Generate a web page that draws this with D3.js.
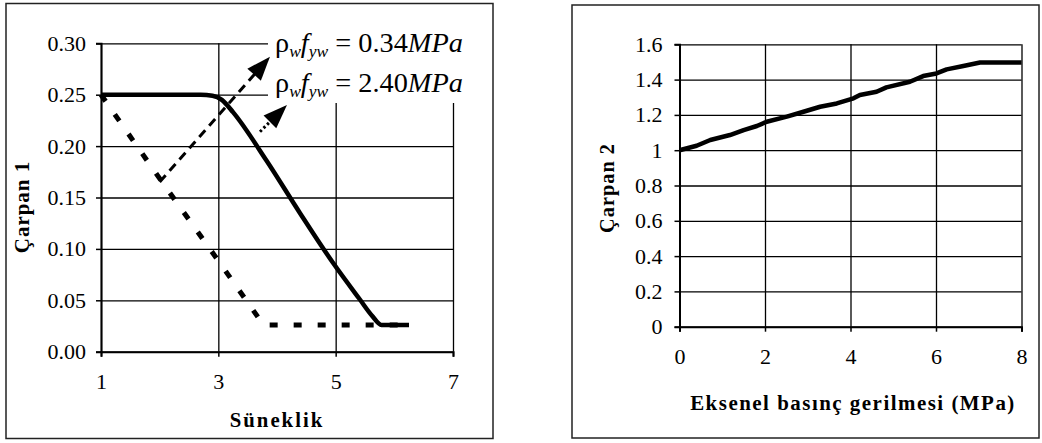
<!DOCTYPE html>
<html><head><meta charset="utf-8">
<script src="https://cdn.jsdelivr.net/npm/d3@7"></script>
<style>
html,body{margin:0;padding:0;background:#fff;}
svg{display:block;}
</style></head>
<body>
<svg id="c" width="1042" height="443"></svg>
<script>
// ---------- data: left chart (Çarpan 1 vs Süneklik) ----------
const leftXTicks = [1, 3, 5, 7];
const leftYTicks = [0, 0.05, 0.10, 0.15, 0.20, 0.25, 0.30];
const solidX = [1, 2.7, 2.9, 3.06, 3.25, 3.82, 4.39, 4.96, 5.41, 5.62, 5.78, 6.25];
const solidY = [0.25, 0.25, 0.249, 0.245, 0.233, 0.186, 0.135, 0.086, 0.051, 0.035, 0.026, 0.026];
const dottedX = [1, 2.03, 3.03, 3.77, 6.25];
const dottedY = [0.25, 0.166, 0.086, 0.026, 0.026];
const arrowDashed = [[2.0, 0.165], [3.88, 0.287]];
const arrowDotted = [[3.71, 0.214], [4.17, 0.240]];
const labelTop = "0.34";
const labelBottom = "2.40";

// ---------- data: right chart (Çarpan 2 vs Eksenel basınç gerilmesi) ----------
const rightXTicks = [0, 2, 4, 6, 8];
const rightYTicks = [0, 0.2, 0.4, 0.6, 0.8, 1, 1.2, 1.4, 1.6];
const curveX = [0, 0.40, 0.72, 1.18, 1.50, 1.81, 2.04, 2.51, 2.90, 3.29, 3.68, 4.07, 4.22, 4.61, 4.84, 5.39, 5.70, 6.01, 6.25, 6.64, 7.03, 8.0];
const curveY = [1.0, 1.025, 1.058, 1.086, 1.114, 1.137, 1.161, 1.19, 1.218, 1.246, 1.265, 1.294, 1.313, 1.331, 1.356, 1.388, 1.42, 1.435, 1.458, 1.477, 1.497, 1.497];

const SERIF = '"Liberation Serif"';
const svg = d3.select("#c");

function fitWidth(sel, w){
  const bw = sel.node().getBBox().width;
  const fs = parseFloat(sel.style("font-size"));
  sel.style("font-size", (fs * w / bw) + "px");
}
function styleAxis(g, fs){
  g.attr("font-family", null).attr("font-size", null);
  g.select(".domain").attr("stroke","#000").attr("stroke-width",2);
  g.selectAll("line").attr("stroke","#000").attr("stroke-width",1.5);
  g.selectAll("text").style("font-family",SERIF).style("font-size",fs+"px").attr("fill","#000");
}
function styleGrid(g){
  g.select(".domain").remove();
  g.selectAll("line").attr("stroke","#000").attr("stroke-width",1.3);
}

// outer frames
svg.append("rect").attr("x",6).attr("y",3.5).attr("width",487).attr("height",435)
  .attr("fill","none").attr("stroke","#222").attr("stroke-width",1.5);
svg.append("rect").attr("x",572).attr("y",5).attr("width",467).attr("height",433)
  .attr("fill","none").attr("stroke","#222").attr("stroke-width",1.5);

// ===== LEFT =====
const xL = d3.scaleLinear().domain([1,7]).range([101,453]);
const yL = d3.scaleLinear().domain([0,0.3]).range([351.7,43.3]);
const gL = svg.append("g");

gL.append("g").attr("transform","translate(101,0)")
  .call(d3.axisLeft(yL).tickValues(leftYTicks).tickSize(-(453-101)).tickFormat(""))
  .call(styleGrid);
gL.append("g").attr("transform","translate(0,351.7)")
  .call(d3.axisBottom(xL).tickValues(leftXTicks).tickSize(-(351.7-43.3)).tickFormat(""))
  .call(styleGrid);

gL.append("g").attr("transform","translate(101,0)")
  .call(d3.axisLeft(yL).tickValues(leftYTicks).tickSize(5).tickPadding(10).tickFormat(d3.format(".2f")))
  .call(g=>styleAxis(g,22));
gL.append("g").attr("transform","translate(0,351.7)")
  .call(d3.axisBottom(xL).tickValues(leftXTicks).tickSize(5).tickPadding(17).tickFormat(d3.format("d")))
  .call(g=>styleAxis(g,22));

const tL1 = gL.append("text").attr("transform","translate(29,207) rotate(-90)").attr("text-anchor","middle")
  .style("font-family",SERIF).style("font-size","20px").attr("font-weight","bold").attr("letter-spacing",1).text("Çarpan 1");
fitWidth(tL1, 93);
const tL2 = gL.append("text").attr("x",277).attr("y",427).attr("text-anchor","middle")
  .style("font-family",SERIF).style("font-size","20px").attr("font-weight","bold").attr("letter-spacing",2).text("Süneklik");
fitWidth(tL2, 95);

// white box behind labels
gL.append("rect").attr("x",268).attr("y",28).attr("width",205).attr("height",75).attr("fill","#fff");

const lineL = d3.line().x(d=>xL(d[0])).y(d=>yL(d[1]));
gL.append("path").datum(dottedX.map((x,i)=>[x,dottedY[i]]))
  .attr("d",lineL).attr("fill","none").attr("stroke","#000").attr("stroke-width",5)
  .attr("stroke-dasharray","8,16");
gL.append("path").datum(solidX.map((x,i)=>[x,solidY[i]]))
  .attr("d",d3.line().x(d=>xL(d[0])).y(d=>yL(d[1])).curve(d3.curveMonotoneX))
  .attr("fill","none").attr("stroke","#000").attr("stroke-width",4.5).attr("stroke-linejoin","round");

function arrow(pts, dash){
  const x1=xL(pts[0][0]), y1=yL(pts[0][1]), x2=xL(pts[1][0]), y2=yL(pts[1][1]);
  const dx=x2-x1, dy=y2-y1, L=Math.hypot(dx,dy), ux=dx/L, uy=dy/L;
  const hl=24, hw=9;
  const bx=x2-ux*hl, by=y2-uy*hl;
  gL.append("line").attr("x1",x1).attr("y1",y1).attr("x2",bx+ux*2).attr("y2",by+uy*2)
    .attr("stroke","#000").attr("stroke-width",3).attr("stroke-dasharray",dash);
  gL.append("path").attr("d",`M${x2},${y2}L${bx-uy*hw},${by+ux*hw}L${bx+uy*hw},${by-ux*hw}Z`)
    .attr("fill","#000");
}
arrow(arrowDashed,"9,6");
arrow(arrowDotted,"2.5,2.5");

function label(y, val){
  const t = gL.append("text").attr("x",275).attr("y",y)
    .style("font-family",SERIF).style("font-size","25px").attr("fill","#000");
  t.append("tspan").text("ρ");
  t.append("tspan").attr("font-style","italic").attr("font-size","0.62em").attr("dy",5).text("w");
  t.append("tspan").attr("font-style","italic").attr("dy",-5).text("f");
  t.append("tspan").attr("font-style","italic").attr("font-size","0.62em").attr("dy",5).text("yw");
  t.append("tspan").attr("dy",-5).text(" = " + val);
  t.append("tspan").attr("font-style","italic").text("MPa");
  fitWidth(t, 188);
}
label(52, labelTop);
label(92, labelBottom);

// ===== RIGHT =====
const xR = d3.scaleLinear().domain([0,8]).range([679.5,1021.5]);
const yR = d3.scaleLinear().domain([0,1.6]).range([326.7,44.3]);
const gR = svg.append("g");
gR.append("g").attr("transform","translate(679.5,0)")
  .call(d3.axisLeft(yR).tickValues(rightYTicks).tickSize(-(1021.5-679.5)).tickFormat(""))
  .call(styleGrid);
gR.append("g").attr("transform","translate(0,326.7)")
  .call(d3.axisBottom(xR).tickValues(rightXTicks).tickSize(-(326.7-44.3)).tickFormat(""))
  .call(styleGrid);
gR.append("g").attr("transform","translate(679.5,0)")
  .call(d3.axisLeft(yR).tickValues(rightYTicks).tickSize(5).tickPadding(12).tickFormat(d=>String(+d.toFixed(1))))
  .call(g=>styleAxis(g,22));
gR.append("g").attr("transform","translate(0,326.7)")
  .call(d3.axisBottom(xR).tickValues(rightXTicks).tickSize(5).tickPadding(17).tickFormat(d3.format("d")))
  .call(g=>styleAxis(g,22));

const tR1 = gR.append("text").attr("transform","translate(614,188) rotate(-90)").attr("text-anchor","middle")
  .style("font-family",SERIF).style("font-size","20px").attr("font-weight","bold").attr("letter-spacing",1).text("Çarpan 2");
fitWidth(tR1, 90);
const tR2 = gR.append("text").attr("x",853).attr("y",410).attr("text-anchor","middle")
  .style("font-family",SERIF).style("font-size","20px").attr("font-weight","bold").attr("letter-spacing",1.5)
  .text("Eksenel basınç gerilmesi (MPa)");
fitWidth(tR2, 328);

gR.append("path").datum(curveX.map((x,i)=>[x,curveY[i]]))
  .attr("d",d3.line().x(d=>xR(d[0])).y(d=>yR(d[1])))
  .attr("fill","none").attr("stroke","#000").attr("stroke-width",4.5).attr("stroke-linejoin","round");
</script>
</body></html>
